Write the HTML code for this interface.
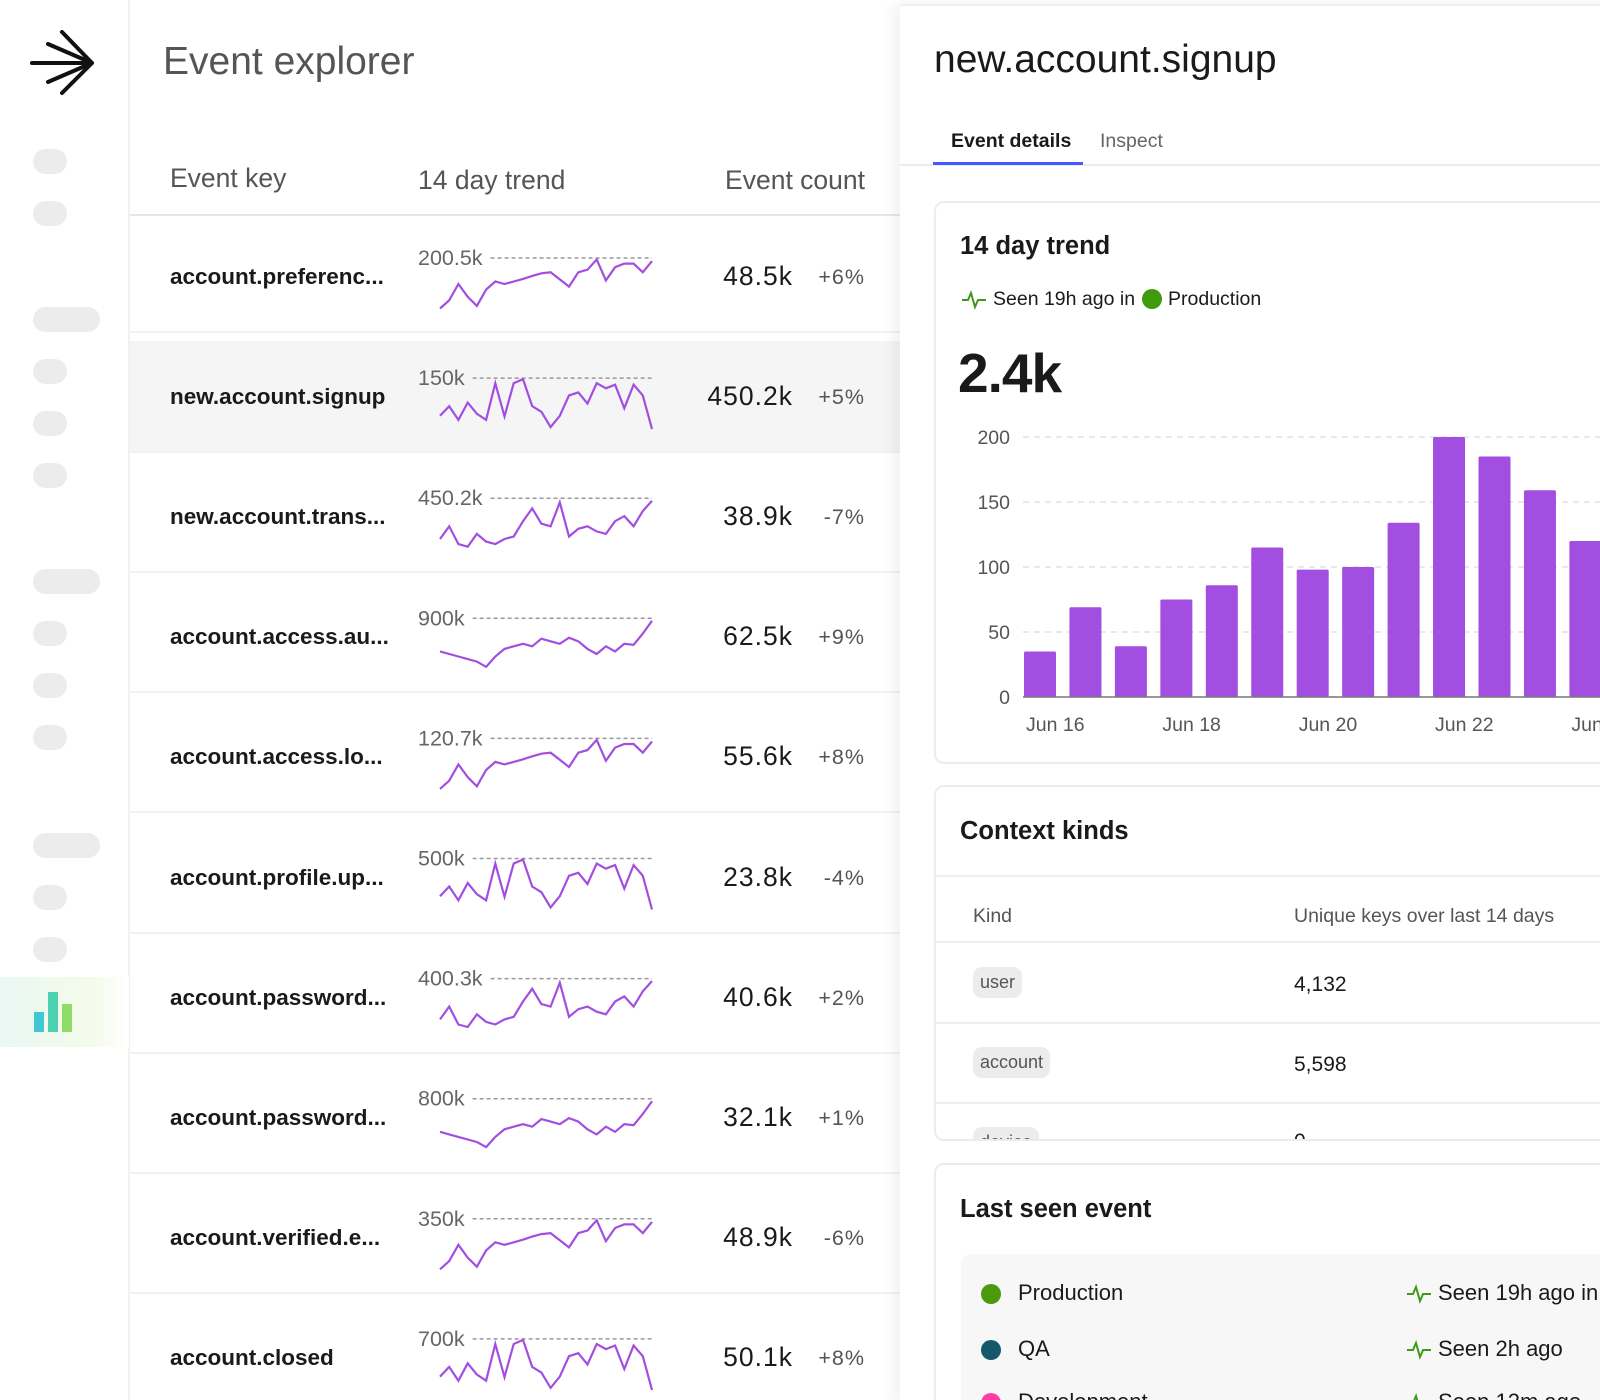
<!DOCTYPE html>
<html><head><meta charset="utf-8">
<style>
*{margin:0;padding:0;box-sizing:border-box}
html,body{width:1600px;height:1400px;overflow:hidden;background:#fff}
body{font-family:"Liberation Sans",sans-serif;color:#1a1a1a}
#wrap{position:relative;width:1600px;height:1400px;overflow:hidden}
.a{position:absolute;white-space:nowrap}
.pill{position:absolute;left:33px;height:25px;border-radius:13px;background:#ececec}
.card{position:absolute;left:934px;width:700px;border:2px solid #ececec;border-radius:10px;background:#fff;overflow:hidden}
.badge{position:absolute;height:31px;border-radius:9px;background:#ececec;color:#555;font-size:18px;line-height:31px;padding:0 7px}
.hr{position:absolute;left:0;width:100%;height:2px;background:#eeeeee}
</style></head><body><div id="wrap">

<div class="a" style="left:0;top:0;width:130px;height:1400px;border-right:2px solid #f1f1f1;background:#fff"></div>
<svg class="a" style="left:30px;top:30px" width="68" height="66" viewBox="0 0 68 66">
<path d="M2 33 L62 33 M32 2 L62 33 L32 63 M18 14 L62 33 L18 52" stroke="#111" stroke-width="4" fill="none" stroke-linecap="round" stroke-linejoin="round"/>
</svg>
<div class="pill" style="top:149px;width:34px"></div>
<div class="pill" style="top:201px;width:34px"></div>
<div class="pill" style="top:307px;width:67px"></div>
<div class="pill" style="top:359px;width:34px"></div>
<div class="pill" style="top:411px;width:34px"></div>
<div class="pill" style="top:463px;width:34px"></div>
<div class="pill" style="top:569px;width:67px"></div>
<div class="pill" style="top:621px;width:34px"></div>
<div class="pill" style="top:673px;width:34px"></div>
<div class="pill" style="top:725px;width:34px"></div>
<div class="pill" style="top:833px;width:67px"></div>
<div class="pill" style="top:885px;width:34px"></div>
<div class="pill" style="top:937px;width:34px"></div>
<div class="a" style="left:0;top:977px;width:129px;height:70px;background:linear-gradient(90deg,#e8f8f3,#f4fbe9 70%,#fff)"></div>
<svg class="a" style="left:34px;top:990px" width="42" height="42">
<rect x="0" y="22" width="10" height="20" fill="#3fc7d6"/><rect x="14" y="2" width="10" height="40" fill="#4cd0b0"/><rect x="28" y="14" width="10" height="28" fill="#8fdc6a"/>
</svg>

<div class="a" style="left:163px;top:40px;font-size:39px;line-height:44px;color:#555">Event explorer</div>
<div class="a" style="left:170px;top:163px;font-size:26.5px;color:#555">Event key</div>
<div class="a" style="left:418px;top:165px;font-size:26.5px;color:#555">14 day trend</div>
<div class="a" style="left:718px;top:165px;width:147px;text-align:right;font-size:26.5px;color:#555">Event count</div>
<div class="a" style="left:130px;top:214px;width:770px;height:2px;background:#e6e6e6"></div>
<div id="rows"></div>
<svg id="spark" class="a" style="left:0;top:0" width="900" height="1400"></svg>

<div class="a" style="left:900px;top:4px;width:720px;height:1400px;background:#fff;box-shadow:-6px 0 14px rgba(0,0,0,0.06);border-top:2px solid #f0f0f0"></div>
<div class="a" style="left:934px;top:38px;font-size:39px;line-height:44px">new.account.signup</div>
<div class="a" style="left:951px;top:130px;font-size:19.5px;font-weight:bold">Event details</div>
<div class="a" style="left:1100px;top:130px;font-size:19.5px;color:#666">Inspect</div>
<div class="a" style="left:900px;top:164px;width:700px;height:2px;background:#ececec"></div>
<div class="a" style="left:933px;top:162px;width:150px;height:3px;background:#405bff"></div>

<div class="card" style="top:201px;height:563px">
 <div class="a" style="left:24px;top:29px;font-size:25.5px;font-weight:bold">14 day trend</div>
 <svg class="a" style="left:26px;top:87px" width="24" height="20"><polyline points="0,10 6,10 9,3 13,17 16,10 24,10" fill="none" stroke="#3f9a1c" stroke-width="2"/></svg>
 <div class="a" style="left:57px;top:85px;font-size:19.5px">Seen 19h ago in</div>
 <div class="a" style="left:206px;top:86px;width:20px;height:20px;border-radius:50%;background:#3f9a0c"></div>
 <div class="a" style="left:232px;top:85px;font-size:19.5px">Production</div>
 <div class="a" style="left:22px;top:138px;font-size:55px;font-weight:bold;letter-spacing:-1px">2.4k</div>
</div>
<svg id="bar" class="a" style="left:0;top:0" width="1600" height="780"></svg>

<div class="card" style="top:785px;height:356px">
 <div class="a" style="left:24px;top:30px;font-size:25.5px;font-weight:bold">Context kinds</div>
 <div class="hr" style="top:88px"></div>
 <div class="a" style="left:37px;top:118px;font-size:19.5px;color:#555">Kind</div>
 <div class="a" style="left:358px;top:118px;font-size:19.5px;color:#555">Unique keys over last 14 days</div>
 <div class="hr" style="top:154px"></div>
 <div class="badge" style="left:37px;top:180px">user</div>
 <div class="a" style="left:358px;top:186px;font-size:21px">4,132</div>
 <div class="hr" style="top:235px"></div>
 <div class="badge" style="left:37px;top:260px">account</div>
 <div class="a" style="left:358px;top:266px;font-size:21px">5,598</div>
 <div class="hr" style="top:315px"></div>
 <div class="badge" style="left:37px;top:340px">device</div>
 <div class="a" style="left:358px;top:343px;font-size:21px">0</div>
</div>

<div class="card" style="top:1163px;height:300px">
 <div class="a" style="left:24px;top:30px;font-size:25.5px;font-weight:bold">Last seen event</div>
 <div class="a" style="left:25px;top:89px;width:700px;height:250px;background:#f7f7f7;border-radius:10px">
  <div class="a" style="left:20px;top:30px;width:20px;height:20px;border-radius:50%;background:#4a9a0c"></div>
  <div class="a" style="left:57px;top:26px;font-size:22px">Production</div>
  <svg class="a" style="left:446px;top:30px" width="24" height="20"><polyline points="0,10 6,10 9,3 13,17 16,10 24,10" fill="none" stroke="#3f9a1c" stroke-width="2"/></svg>
  <div class="a" style="left:477px;top:26px;font-size:22px">Seen 19h ago in</div>
  <div class="a" style="left:20px;top:86px;width:20px;height:20px;border-radius:50%;background:#14586a"></div>
  <div class="a" style="left:57px;top:82px;font-size:22px">QA</div>
  <svg class="a" style="left:446px;top:86px" width="24" height="20"><polyline points="0,10 6,10 9,3 13,17 16,10 24,10" fill="none" stroke="#3f9a1c" stroke-width="2"/></svg>
  <div class="a" style="left:477px;top:82px;font-size:22px">Seen 2h ago</div>
  <div class="a" style="left:20px;top:139px;width:20px;height:20px;border-radius:50%;background:#ff3ea5"></div>
  <div class="a" style="left:57px;top:135px;font-size:22px">Development</div>
  <svg class="a" style="left:446px;top:139px" width="24" height="20"><polyline points="0,10 6,10 9,3 13,17 16,10 24,10" fill="none" stroke="#3f9a1c" stroke-width="2"/></svg>
  <div class="a" style="left:477px;top:135px;font-size:22px">Seen 12m ago</div>
 </div>
</div>
</div>

<script>
const NS='http://www.w3.org/2000/svg';
// ---- table data ----
const rowKeys=['account.preferenc...','new.account.signup','new.account.trans...','account.access.au...','account.access.lo...','account.profile.up...','account.password...','account.password...','account.verified.e...','account.closed'];
const rowMaxLabels=['200.5k','150k','450.2k','900k','120.7k','500k','400.3k','800k','350k','700k'];
const rowCounts=['48.5k','450.2k','38.9k','62.5k','55.6k','23.8k','40.6k','32.1k','48.9k','50.1k'];
const rowChanges=['+6%','+5%','-7%','+9%','+8%','-4%','+2%','+1%','-6%','+8%'];
const sparkA=[0.01,0.17,0.49,0.24,0.06,0.38,0.54,0.49,0.54,0.59,0.65,0.7,0.72,0.58,0.44,0.72,0.77,0.97,0.56,0.82,0.89,0.89,0.72,0.94];
const sparkB=[0.26,0.45,0.18,0.52,0.3,0.18,0.9,0.25,0.9,0.98,0.45,0.34,0.04,0.26,0.66,0.72,0.5,0.9,0.8,0.87,0.41,0.87,0.66,0.0];
const sparkC=[0.2,0.45,0.1,0.05,0.3,0.15,0.1,0.2,0.25,0.55,0.8,0.5,0.45,0.92,0.25,0.4,0.45,0.35,0.3,0.55,0.65,0.45,0.75,0.95];
const sparkD=[0.35,0.3,0.25,0.2,0.15,0.05,0.25,0.4,0.45,0.5,0.45,0.6,0.55,0.5,0.62,0.55,0.4,0.3,0.45,0.35,0.5,0.48,0.7,0.95];
const rowSeries=[sparkA,sparkB,sparkC,sparkD,sparkA,sparkB,sparkC,sparkD,sparkA,sparkB];
// ---- bar chart data ----
const barDays=['Jun 16','Jun 17','Jun 18','Jun 19','Jun 20','Jun 21','Jun 22','Jun 23','Jun 24','Jun 25','Jun 26','Jun 27','Jun 28'];
const barValues=[35,69,39,75,86,115,98,100,134,200,185,159,120];
const yTicks=[0,50,100,150,200];
const xTickLabels=['Jun 16','Jun 18','Jun 20','Jun 22','Jun 24'];
const xTickIndex=[0,3,6,9,12];

const rowsEl=document.getElementById('rows');
const sp=document.getElementById('spark');
function rowY(i){return 277+i*120.1;}
rowKeys.forEach((k,i)=>{
  const cy=rowY(i);
  const bg=document.createElement('div');
  bg.className='a';
  
  
  bg.style.cssText=`left:130px;top:${cy-56}px;width:770px;height:112px;background:${i==1?'#f5f5f5':'#fff'};border-bottom:2px solid #f1f1f1`;
  rowsEl.appendChild(bg);
  const key=document.createElement('div');key.className='a';
  
  
  key.style.cssText=`left:170px;top:${cy-13}px;font-size:22.5px;font-weight:bold;color:#1a1a1a`;
  key.textContent=k;rowsEl.appendChild(key);
  const c=document.createElement('div');c.className='a';
  
  
  c.style.cssText=`left:640px;width:153px;text-align:right;top:${cy-16}px;font-size:26.5px;letter-spacing:1px`;
  c.textContent=rowCounts[i];rowsEl.appendChild(c);
  const p=document.createElement('div');p.className='a';
  
  
  p.style.cssText=`left:800px;width:65px;text-align:right;top:${cy-12}px;font-size:21.5px;color:#555;letter-spacing:1px`;
  p.textContent=rowChanges[i];rowsEl.appendChild(p);
  const top=cy-19,bot=cy+32,x0=440,x1=652;
  const t=document.createElementNS(NS,'text');
  
  
  t.setAttribute('x',418);t.setAttribute('y',top+7);
  t.setAttribute('font-size','21.5');t.setAttribute('fill','#666');t.setAttribute('font-family','Liberation Sans, sans-serif');
  t.textContent=rowMaxLabels[i];sp.appendChild(t);
  const lw=t.getComputedTextLength?t.getComputedTextLength():60;
  const dl=document.createElementNS(NS,'line');
  
  
  dl.setAttribute('x1',418+lw+8);dl.setAttribute('x2',x1);dl.setAttribute('y1',top);dl.setAttribute('y2',top);
  dl.setAttribute('stroke','#999');dl.setAttribute('stroke-width','1.5');dl.setAttribute('stroke-dasharray','4 3');
  sp.appendChild(dl);
  const s=rowSeries[i];
  const pts=s.map((v,j)=>(x0+j*(x1-x0)/(s.length-1)).toFixed(1)+','+(bot-v*(bot-top)).toFixed(1)).join(' ');
  const pl=document.createElementNS(NS,'polyline');
  
  
  pl.setAttribute('points',pts);pl.setAttribute('fill','none');pl.setAttribute('stroke','#a24ee0');pl.setAttribute('stroke-width','2.2');
  sp.appendChild(pl);
});

const bc=document.getElementById('bar');
const yZero=697,yTop=437,vMax=200,bx0=1024,pitch=45.45,bw=32;
function yS(v){return yZero-(v/vMax)*(yZero-yTop);}
function xS(i){return bx0+i*pitch;}
yTicks.forEach(v=>{
  const y=yS(v);
  if(v>0){const g=document.createElementNS(NS,'line');
  
  
  g.setAttribute('x1',1023);g.setAttribute('x2',1600);g.setAttribute('y1',y);g.setAttribute('y2',y);
  g.setAttribute('stroke','#e2e2e2');g.setAttribute('stroke-width','1.5');g.setAttribute('stroke-dasharray','6 5');bc.appendChild(g);}
  const t=document.createElementNS(NS,'text');
  
  
  t.setAttribute('x',1010);t.setAttribute('y',y+7);t.setAttribute('text-anchor','end');
  t.setAttribute('font-size','19.5');t.setAttribute('fill','#555');t.setAttribute('font-family','Liberation Sans, sans-serif');
  t.textContent=v;bc.appendChild(t);
});
barValues.forEach((v,i)=>{
  const r=document.createElementNS(NS,'rect');
  
  
  r.setAttribute('x',xS(i));r.setAttribute('y',yS(v));r.setAttribute('width',bw);r.setAttribute('height',yZero-yS(v));
  r.setAttribute('fill','#a24ee0');r.setAttribute('rx','1.5');bc.appendChild(r);
});
const base=document.createElementNS(NS,'line');


base.setAttribute('x1',1023);base.setAttribute('x2',1600);base.setAttribute('y1',yZero);base.setAttribute('y2',yZero);
base.setAttribute('stroke','#777');base.setAttribute('stroke-width','1.5');bc.appendChild(base);
xTickLabels.forEach((l,k)=>{
  const t=document.createElementNS(NS,'text');
  
  
  t.setAttribute('x',xS(xTickIndex[k])+2);t.setAttribute('y',731);
  t.setAttribute('font-size','19.5');t.setAttribute('fill','#555');t.setAttribute('font-family','Liberation Sans, sans-serif');
  t.textContent=l;bc.appendChild(t);
});
</script>
</body></html>
